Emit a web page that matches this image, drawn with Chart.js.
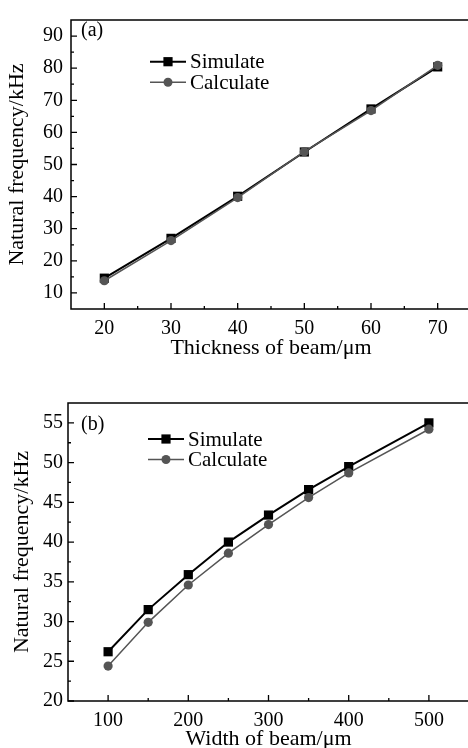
<!DOCTYPE html>
<html>
<head>
<meta charset="utf-8">
<script src="https://cdn.jsdelivr.net/npm/chart.js@4"></script>
<style>
  html, body { margin: 0; padding: 0; background: #fff; overflow: hidden; width: 468px; height: 748px; }
  canvas { position: absolute; left: 0; }
  #chartA { top: 0; }
  #chartB { top: 374px; }
</style>
</head>
<body>
<canvas id="chartA" width="480" height="374"></canvas>
<canvas id="chartB" width="480" height="390"></canvas>
<script>
// (a) natural frequency vs beam thickness
const thickness = [20, 30, 40, 50, 60, 70];
const simThick = [14.6, 27.0, 40.1, 53.9, 67.3, 80.4];
const calcThick = [13.8, 26.3, 39.7, 54.0, 66.8, 80.9];
const thickTicksX = [20, 30, 40, 50, 60, 70];
const thickTicksY = [10, 20, 30, 40, 50, 60, 70, 80, 90];

// (b) natural frequency vs beam width
const width = [100, 150, 200, 250, 300, 350, 400, 500];
const simWidth = [26.2, 31.5, 35.9, 40.0, 43.4, 46.6, 49.5, 55.0];
const calcWidth = [24.4, 29.9, 34.6, 38.6, 42.2, 45.6, 48.7, 54.2];
const widthTicksX = [100, 200, 300, 400, 500];
const widthTicksY = [20, 25, 30, 35, 40, 45, 50, 55];

const seriesNames = ["Simulate", "Calculate"];

const FONT = "'Liberation Serif', 'Times New Roman', serif";

function pts(xs, ys) {
  return xs.map((x, i) => ({ x: x, y: ys[i] }));
}

// box around the plot and inward tick marks, legend and panel tag
const framePlugin = {
  id: "frame",
  afterDraw(chart, args, opts) {
    const { ctx, chartArea: a, scales } = chart;
    ctx.save();
    ctx.strokeStyle = "#000";
    ctx.lineWidth = 1.5;
    ctx.strokeRect(a.left, a.top, a.right - a.left, a.bottom - a.top);

    ctx.lineWidth = 1.3;
    const x = scales.x, y = scales.y;
    const xv = x.ticks.map(t => t.value);
    const yv = y.ticks.map(t => t.value);
    ctx.beginPath();
    xv.forEach(v => {
      const px = x.getPixelForValue(v);
      ctx.moveTo(px, a.bottom); ctx.lineTo(px, a.bottom - 6);
    });
    for (let v = xv[0] - opts.xMinor; v <= x.max; v += opts.xMinor * 2) {
      if (v <= x.min || v >= x.max) continue;
      const px = x.getPixelForValue(v);
      ctx.moveTo(px, a.bottom); ctx.lineTo(px, a.bottom - 3);
    }
    yv.forEach(v => {
      const py = y.getPixelForValue(v);
      ctx.moveTo(a.left, py); ctx.lineTo(a.left + 6, py);
    });
    for (let v = yv[0] - opts.yMinor; v <= y.max; v += opts.yMinor * 2) {
      if (v <= y.min || v >= y.max) continue;
      const py = y.getPixelForValue(v);
      ctx.moveTo(a.left, py); ctx.lineTo(a.left + 3, py);
    }
    ctx.stroke();

    // panel tag
    ctx.fillStyle = "#000";
    ctx.font = "20px " + FONT;
    ctx.textAlign = "left";
    ctx.textBaseline = "middle";
    ctx.fillText(opts.tag, opts.tagX, opts.tagY);

    // legend
    chart.data.datasets.slice().sort((p, q) => p.legendRow - q.legendRow).forEach((ds, i) => {
      const ly = opts.legY + i * 20.5;
      ctx.strokeStyle = ds.borderColor;
      ctx.lineWidth = ds.borderWidth;
      ctx.beginPath();
      ctx.moveTo(opts.legX, ly);
      ctx.lineTo(opts.legX + 36, ly);
      ctx.stroke();
      ctx.fillStyle = ds.pointBackgroundColor;
      if (ds.pointStyle === "rect") {
        ctx.fillRect(opts.legX + 18 - 4.6, ly - 4.6, 9.2, 9.2);
      } else {
        ctx.beginPath();
        ctx.arc(opts.legX + 18, ly, 4.5, 0, Math.PI * 2);
        ctx.fill();
      }
      ctx.fillStyle = "#000";
      ctx.font = "21px " + FONT;
      ctx.fillText(ds.label, opts.legX + 40, ly + 1);
    });
    ctx.restore();
  }
};

function makeChart(id, cfg) {
  const ctx = document.getElementById(id).getContext("2d");
  return new Chart(ctx, {
    type: "line",
    data: {
      datasets: [
        {
          label: seriesNames[0],
          data: pts(cfg.xs, cfg.sim),
          borderColor: "#000",
          backgroundColor: "#000",
          pointBackgroundColor: "#000",
          pointBorderColor: "#000",
          borderWidth: 2,
          pointStyle: "rect",
          pointRadius: 6.5,
          pointBorderWidth: 0,
          order: 2,
          legendRow: 0
        },
        {
          label: seriesNames[1],
          data: pts(cfg.xs, cfg.calc),
          borderColor: "#555",
          backgroundColor: "#555",
          pointBackgroundColor: "#555",
          pointBorderColor: "#555",
          borderWidth: 1.5,
          pointStyle: "circle",
          pointRadius: 4.6,
          pointBorderWidth: 0,
          order: 1,
          legendRow: 1
        }
      ]
    },
    options: {
      responsive: false,
      animation: false,
      devicePixelRatio: 1,
      layout: { padding: { top: cfg.padTop, right: cfg.padRight, left: 0, bottom: 0 } },
      plugins: {
        legend: { display: false },
        tooltip: { enabled: false },
        frame: cfg.frame
      },
      scales: {
        x: {
          type: "linear",
          min: cfg.xMin,
          max: cfg.xMax,
          afterBuildTicks: s => { s.ticks = cfg.ticksX.map(v => ({ value: v })); },
          afterFit: s => { s.height = cfg.xAxisH; },
          grid: { display: false, drawTicks: false },
          border: { display: false },
          ticks: { color: "#000", font: { family: FONT, size: 20 }, padding: cfg.xTickPad, maxRotation: 0 },
          title: {
            display: true,
            text: cfg.xTitle,
            color: "#000",
            font: { family: FONT, size: 22 },
            padding: { top: 0, bottom: cfg.xTitlePad }
          }
        },
        y: {
          type: "linear",
          min: cfg.yMin,
          max: cfg.yMax,
          afterBuildTicks: s => { s.ticks = cfg.ticksY.map(v => ({ value: v })); },
          afterFit: s => { s.width = cfg.yAxisW; },
          grid: { display: false, drawTicks: false },
          border: { display: false },
          ticks: { color: "#000", font: { family: FONT, size: 20 }, padding: cfg.yTickPad },
          title: {
            display: true,
            text: "Natural frequency/kHz",
            color: "#000",
            font: { family: FONT, size: 22 },
            padding: { top: cfg.yTitlePad, bottom: 0 }
          }
        }
      }
    },
    plugins: [framePlugin]
  });
}

makeChart("chartA", {
  xs: thickness, sim: simThick, calc: calcThick,
  ticksX: thickTicksX, ticksY: thickTicksY,
  xMin: 15, xMax: 75, yMin: 5, yMax: 95,
  padTop: 11, padRight: 9, xAxisH: 65, yAxisW: 71,
  xTickPad: 8, yTickPad: 8, xTitlePad: 12.5, yTitlePad: 4.5,
  xTitle: "Thickness of beam/\u03bcm",
  frame: { xMinor: 5, yMinor: 5, tag: "(a)", tagX: 81, tagY: 31, legX: 150, legY: 61.7 }
});

makeChart("chartB", {
  xs: width, sim: simWidth, calc: calcWidth,
  ticksX: widthTicksX, ticksY: widthTicksY,
  xMin: 50, xMax: 550, yMin: 20, yMax: 57.5,
  padTop: 29, padRight: 11, xAxisH: 63, yAxisW: 68,
  xTickPad: 8, yTickPad: 5, xTitlePad: 11.5, yTitlePad: 9.5,
  xTitle: "Width of beam/\u03bcm",
  frame: { xMinor: 50, yMinor: 2.5, tag: "(b)", tagX: 81, tagY: 423 - 374 + 2, legX: 148, legY: 439 - 374 }
});
</script>
</body>
</html>
